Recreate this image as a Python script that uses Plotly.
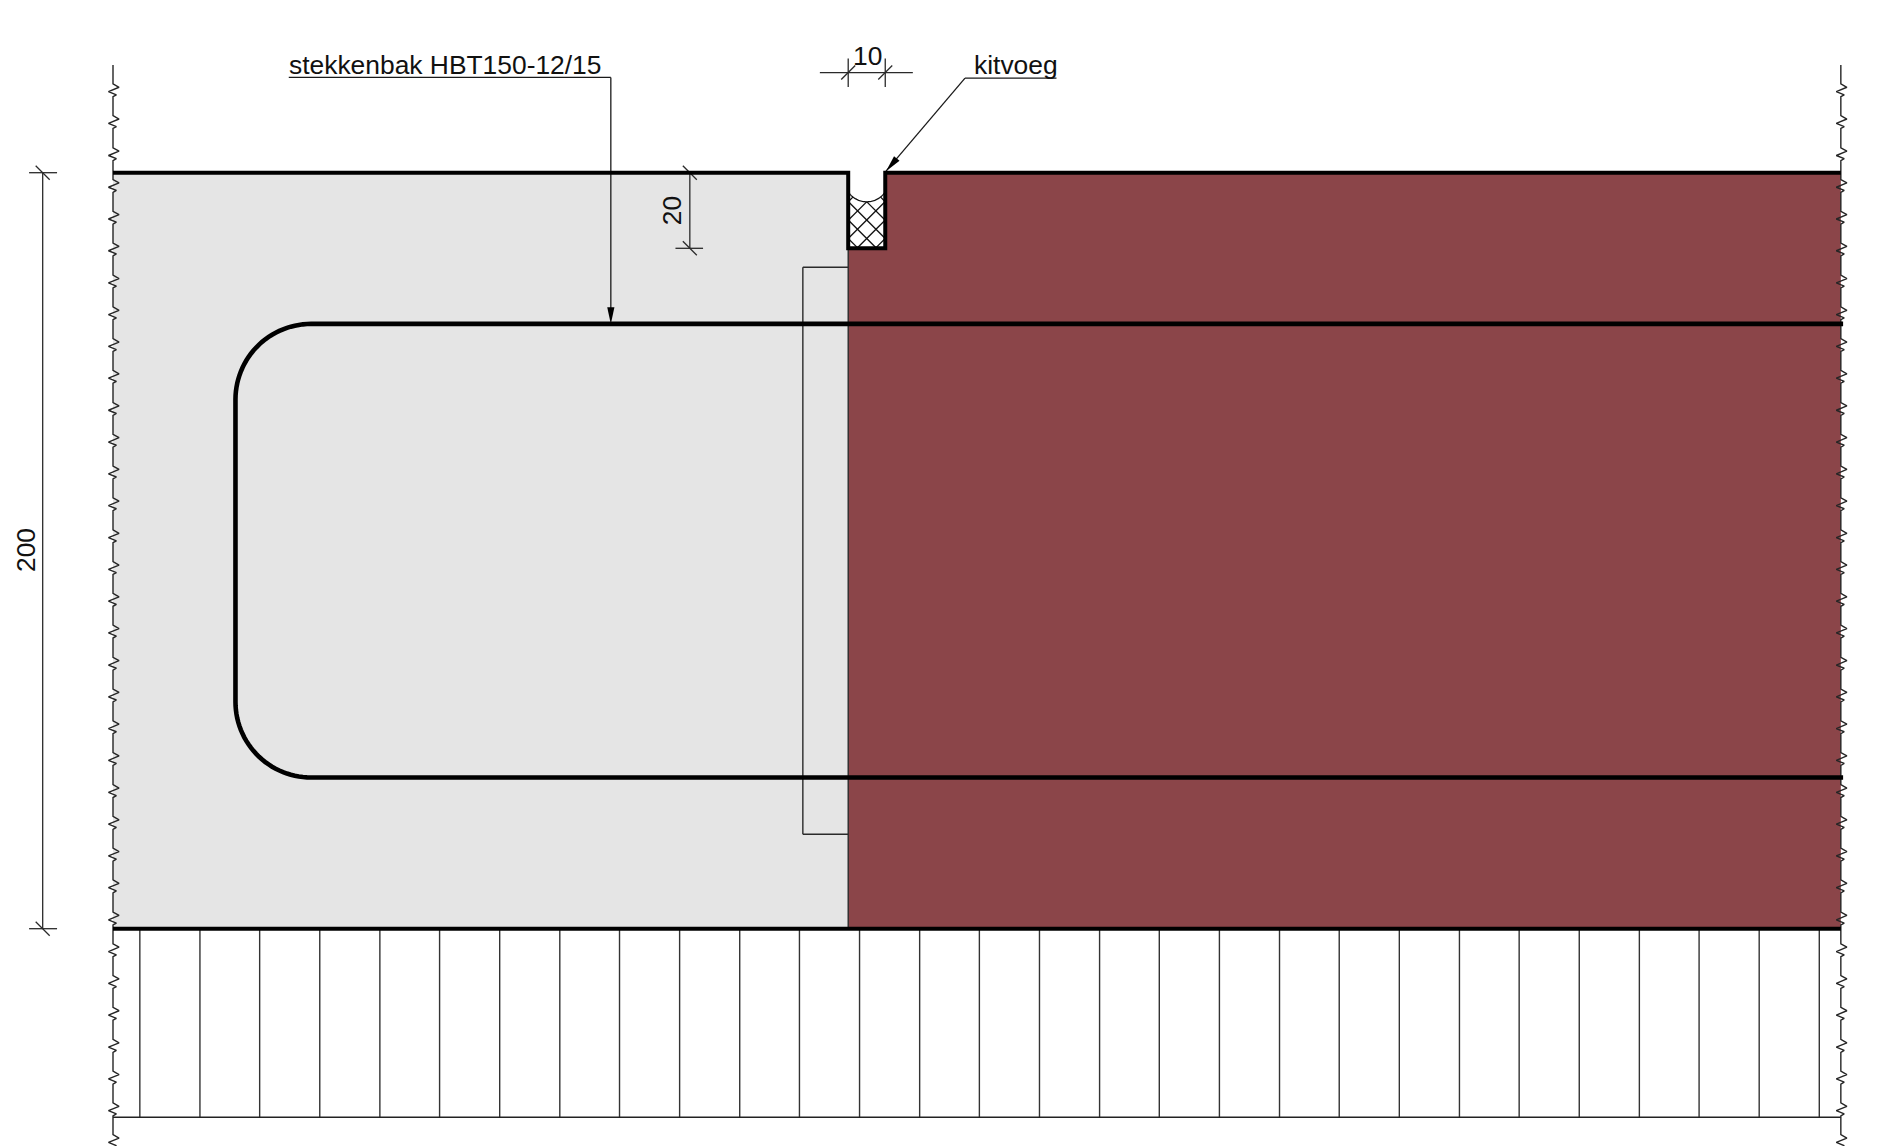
import numpy as np
import plotly.graph_objects as go

# All geometry in millimetres of the drawn section (origin: left edge, top of subfloor)
LEFT, RIGHT = 0.0, 457.1
FLOOR, TOP = 0.0, 200.0
JOINT_L, JOINT_R, JOINT_BOTTOM = 194.5, 204.3, 180.0
REBAR_X, REBAR_TOP, REBAR_LOW, REBAR_R = 32.4, 160.0, 40.0, 20.0
SLEEVE_L, SLEEVE_BOTTOM, SLEEVE_TOP = 182.5, 25.0, 175.0
BASE_LOW = -49.9
BREAK_TOP, BREAK_END = 228.5, -57.5
HATCH_X = [7.1, 23.0, 38.8, 54.7, 70.6, 86.4, 102.3, 118.2, 134.0, 149.9, 165.8, 181.6, 197.5, 213.4, 229.2,
           245.1, 261.0, 276.8, 292.7, 308.6, 324.4, 340.3, 356.2, 372.0, 387.9, 403.8, 419.6, 435.5, 451.4]
BREAK_Y = [221.9, 213.5, 205.0, 196.6, 188.2, 179.8, 171.3, 162.9, 154.5, 146.1, 137.6, 129.2, 120.8, 112.4,
           103.9, 95.5, 87.1, 78.7, 70.2, 61.8, 53.4, 45.0, 36.5, 28.1, 19.7, 11.3, 2.8, -5.6, -14.0, -22.4,
           -30.9, -39.3, -47.7, -56.1]
ZIG_DX = [0, 1.6, -1.2, 0.9, 0]
ZIG_DY = [1.6, 0.7, -0.45, -1.3, -1.8]
CROSS_C = [177.7, 182.6, 187.5, 192.3, 197.2]
LABELS = ["stekkenbak HBT150-12/15", "kitvoeg", "10", "20", "200"]

GREY, RED, INK, THIN = "#e5e5e5", "#8b4549", "#000000", "#333333"
S = 3.78
X_RANGE = [-113 / S, (1887 - 113) / S]
Y_RANGE = [(928.7 - 1146) / S, 928.7 / S]

fig = go.Figure()


def poly(xs, ys, fill=None, color=THIN, width=1.4):
    fig.add_trace(go.Scatter(
        x=xs, y=ys, mode="lines", hoverinfo="skip", showlegend=False,
        fill="toself" if fill else None, fillcolor=fill,
        line=dict(color=color, width=width if not fill else 0, simplify=False)))


def segs(items, **kw):
    xs, ys = [], []
    for (x0, y0, x1, y1) in items:
        xs += [x0, x1, None]
        ys += [y0, y1, None]
    poly(xs, ys, **kw)


def arrow(tip, tail, length=4.4, half=0.95):
    t, a = np.array(tip), np.array(tail)
    u = (a - t) / np.linalg.norm(a - t)
    n = np.array([-u[1], u[0]])
    b = t + u * length
    pts = [t, b + n * half, b - n * half, t]
    poly([p[0] for p in pts], [p[1] for p in pts], fill=INK)


# fills
poly([LEFT, JOINT_L, JOINT_L, LEFT, LEFT], [FLOOR, FLOOR, TOP, TOP, FLOOR], fill=GREY)
poly([JOINT_L, RIGHT, RIGHT, JOINT_R, JOINT_R, JOINT_L, JOINT_L],
     [FLOOR, FLOOR, TOP, TOP, JOINT_BOTTOM, JOINT_BOTTOM, FLOOR], fill=RED)

# subfloor hatch
segs([(x, BASE_LOW, x, FLOOR) for x in HATCH_X])
segs([(LEFT, BASE_LOW, RIGHT, BASE_LOW)], width=1.5, color="#222222")

# sleeve and joint seam
segs([(SLEEVE_L, SLEEVE_BOTTOM, JOINT_L, SLEEVE_BOTTOM), (SLEEVE_L, SLEEVE_BOTTOM, SLEEVE_L, SLEEVE_TOP),
      (SLEEVE_L, SLEEVE_TOP, JOINT_L, SLEEVE_TOP), (JOINT_L, FLOOR, JOINT_L, JOINT_BOTTOM)], color="#2a2a2a")

# backer rod: arc and cross hatch
cx = (JOINT_L + JOINT_R) / 2
r, yc = 5.9, 198.2
ax = np.linspace(JOINT_L, JOINT_R, 40)
ay = yc - np.sqrt(np.maximum(r ** 2 - (ax - cx) ** 2, 0))
poly(list(ax), list(ay), color="#111111", width=1.3)
for sgn in (1, -1):
    for c in CROSS_C:
        tx = np.linspace(JOINT_L, JOINT_R, 200)
        ty = c + sgn * (tx - cx)
        keep = (ty >= JOINT_BOTTOM) & (ty <= yc - np.sqrt(np.maximum(r ** 2 - (tx - cx) ** 2, 0)))
        if keep.any():
            poly([tx[keep][0], tx[keep][-1]], [ty[keep][0], ty[keep][-1]], color="#111111", width=1.3)

# break lines
for bx in (LEFT, RIGHT):
    xs, ys = [bx], [BREAK_TOP]
    for by in BREAK_Y:
        xs += [bx + d for d in ZIG_DX]
        ys += [by + d for d in ZIG_DY]
    xs.append(bx)
    ys.append(BREAK_END)
    poly(xs, ys, color="#262626", width=1.4)

# dimensions
SL = 1.85
segs([(-18.6, FLOOR, -18.6, TOP), (-22.2, FLOOR, -14.8, FLOOR), (-22.2, TOP, -14.8, TOP),
      (-18.6 - SL, FLOOR + SL, -18.6 + SL, FLOOR - SL), (-18.6 - SL, TOP + SL, -18.6 + SL, TOP - SL),
      (152.6, JOINT_BOTTOM, 152.6, TOP), (148.8, JOINT_BOTTOM, 156.1, JOINT_BOTTOM),
      (152.6 - SL, JOINT_BOTTOM + SL, 152.6 + SL, JOINT_BOTTOM - SL), (152.6 - SL, TOP + SL, 152.6 + SL, TOP - SL),
      (187.0, 226.5, 211.6, 226.5), (JOINT_L, 222.7, JOINT_L, 230.2), (JOINT_R, 222.7, JOINT_R, 230.2),
      (JOINT_L - SL, 226.5 - SL, JOINT_L + SL, 226.5 + SL), (JOINT_R - SL, 226.5 - SL, JOINT_R + SL, 226.5 + SL)],
     color="#2a2a2a", width=1.3)

# leaders
segs([(46.5, 225.2, 131.7, 225.2), (131.7, 225.2, 131.7, 164.0),
      (249.6, 225.0, 225.4, 225.0), (225.4, 225.0, 204.5, 200.4)], color="#1a1a1a", width=1.3)
arrow((131.7, REBAR_TOP), (131.7, 225.2))
arrow((204.5, 200.4), (225.4, 225.0))

# heavy outlines
poly([LEFT, JOINT_L, JOINT_L, JOINT_R, JOINT_R, RIGHT], [TOP, TOP, JOINT_BOTTOM, JOINT_BOTTOM, TOP, TOP],
     color=INK, width=4.0)
poly([LEFT, RIGHT], [FLOOR, FLOOR], color=INK, width=4.0)
th = np.linspace(0, np.pi / 2, 30)
rx = [RIGHT + 0.6, REBAR_X + REBAR_R] + list(REBAR_X + REBAR_R - REBAR_R * np.sin(th)) \
     + list(REBAR_X + REBAR_R - REBAR_R * np.cos(th)) + [REBAR_X + REBAR_R, RIGHT + 0.6]
ry = [REBAR_TOP, REBAR_TOP] + list(REBAR_TOP - REBAR_R + REBAR_R * np.cos(th)) \
     + list(REBAR_LOW + REBAR_R - REBAR_R * np.sin(th)) + [REBAR_LOW, REBAR_LOW]
poly(rx, ry, color=INK, width=4.6)

FONT = dict(family="Liberation Sans, Arial, sans-serif", size=26.4, color="#111111")
ann = [
    dict(x=46.3, y=228.6, text=LABELS[0], xanchor="left", yanchor="middle", textangle=0),
    dict(x=227.4, y=228.6, text=LABELS[1], xanchor="left", yanchor="middle", textangle=0),
    dict(x=199.5, y=231.0, text=LABELS[2], xanchor="center", yanchor="middle", textangle=0),
    dict(x=147.8, y=190.0, text=LABELS[3], xanchor="center", yanchor="middle", textangle=-90),
    dict(x=-23.0, y=100.2, text=LABELS[4], xanchor="center", yanchor="middle", textangle=-90),
]
for a in ann:
    fig.add_annotation(xref="x", yref="y", showarrow=False, font=FONT, borderpad=0, **a)

fig.update_layout(
    width=1887, height=1146, margin=dict(l=0, r=0, t=0, b=0),
    paper_bgcolor="white", plot_bgcolor="white", showlegend=False,
    xaxis=dict(range=X_RANGE, visible=False, fixedrange=True),
    yaxis=dict(range=Y_RANGE, visible=False, fixedrange=True),
)
fig.write_html("out.html", config=dict(displayModeBar=False),
               post_script="document.body.style.margin='0';document.body.style.overflow='hidden';")
